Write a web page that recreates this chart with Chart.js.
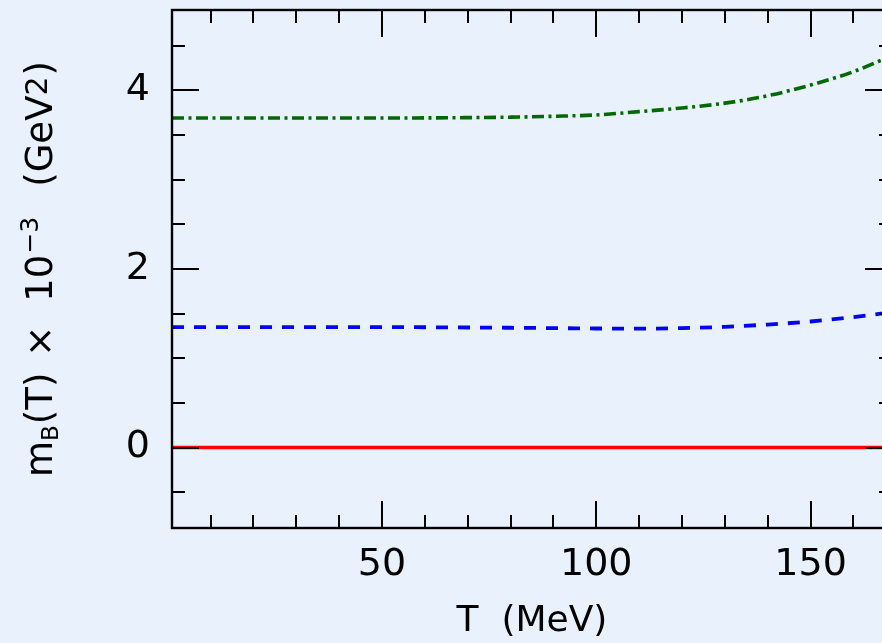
<!DOCTYPE html>
<html>
<head>
<meta charset="utf-8">
<script src="https://cdn.jsdelivr.net/npm/chart.js@4.4.1/dist/chart.umd.min.js"></script>
<style>
  html, body { margin: 0; padding: 0; overflow: hidden; background: rgb(232,241,252); }
  #wrap { width: 882px; height: 643px; overflow: hidden; }
  canvas { display: block; }
</style>
</head>
<body>
<div id="wrap"><canvas id="c" width="940" height="643"></canvas></div>
<script>
// ---- data ----
const temperatures = [1, 10, 20, 30, 40, 50, 60, 70, 80, 90, 100, 110, 120, 130, 140, 150, 160, 169];
const redSeries   = [0, 0, 0, 0, 0, 0, 0, 0, 0, 0, 0, 0, 0, 0, 0, 0, 0, 0];
const blueSeries  = [1.35, 1.35, 1.35, 1.35, 1.35, 1.35, 1.348, 1.345, 1.342, 1.338, 1.334, 1.332, 1.338, 1.352, 1.378, 1.412, 1.462, 1.515];
const greenSeries = [3.69, 3.69, 3.69, 3.69, 3.69, 3.69, 3.692, 3.695, 3.70, 3.71, 3.725, 3.762, 3.803, 3.857, 3.94, 4.06, 4.21, 4.39];
const xTickLabels = [50, 100, 150];
const yTickLabels = [0, 2, 4];
const xMinorTicks = [10, 20, 30, 40, 50, 60, 70, 80, 90, 100, 110, 120, 130, 140, 150, 160];
const yMinorTicks = [-0.5, 0, 0.5, 1, 1.5, 2, 2.5, 3, 3.5, 4, 4.5];
const xTitle = 'T  (MeV)';

const BG = 'rgb(232,241,252)';
const FONT = "'DejaVu Sans', sans-serif";

function pts(ys) { return temperatures.map((t, i) => ({ x: t, y: ys[i] })); }

const framePlugin = {
  id: 'frame',
  beforeDraw(chart) {
    const ctx = chart.ctx;
    ctx.save();
    ctx.fillStyle = BG;
    ctx.fillRect(0, 0, chart.width, chart.height);
    ctx.restore();
  },
  afterDatasetsDraw(chart) {
    const { ctx, chartArea: a, scales } = chart;
    const xs = scales.x, ys = scales.y;
    ctx.save();
    ctx.strokeStyle = '#000';
    ctx.lineWidth = 2;
    ctx.lineCap = 'butt';
    ctx.beginPath();
    xMinorTicks.forEach(v => {
      const px = Math.round(xs.getPixelForValue(v));
      const len = (v % 50 === 0) ? 27 : 13;
      ctx.moveTo(px, a.bottom); ctx.lineTo(px, a.bottom - len);
      ctx.moveTo(px, a.top); ctx.lineTo(px, a.top + len);
    });
    yMinorTicks.forEach(v => {
      const py = Math.round(ys.getPixelForValue(v));
      const len = yTickLabels.includes(v) ? 27 : 13;
      ctx.moveTo(a.left, py); ctx.lineTo(a.left + len, py);
      ctx.moveTo(a.right, py); ctx.lineTo(a.right - len, py);
    });
    ctx.stroke();
    ctx.lineWidth = 2.4;
    ctx.strokeRect(a.left, a.top, a.right - a.left, a.bottom - a.top);
    ctx.restore();
  },
  afterDraw(chart) {
    // y-axis title with sub/superscripts; g = gap (px) placed before the piece
    const { ctx, chartArea: a } = chart;
    const pieces = [
      { t: 'm', s: 37, d: 0, g: 0 },
      { t: 'B', s: 23, d: 6, g: 0 },
      { t: '(T)', s: 37, d: 0, g: 1 },
      { t: '\u00d7', s: 37, d: 0, g: 16 },
      { t: '10', s: 37, d: 0, g: 24 },
      { t: '\u22123', s: 25, d: -14, g: 1 },
      { t: '(GeV', s: 37, d: 0, g: 30 },
      { t: '2', s: 30, d: -5, g: 0 },
      { t: ')', s: 37, d: 0, g: 1 }
    ];
    ctx.save();
    ctx.fillStyle = '#000';
    ctx.textBaseline = 'alphabetic';
    ctx.textAlign = 'left';
    let total = 0;
    pieces.forEach(p => { ctx.font = p.s + 'px ' + FONT; p.w = ctx.measureText(p.t).width; total += p.w + p.g; });
    ctx.translate(52, (a.top + a.bottom) / 2);
    ctx.rotate(-Math.PI / 2);
    let x = -total / 2;
    pieces.forEach(p => { x += p.g; ctx.font = p.s + 'px ' + FONT; ctx.fillText(p.t, x, p.d); x += p.w; });
    ctx.restore();
  }
};

new Chart(document.getElementById('c'), {
  type: 'line',
  data: {
    datasets: [
      { data: pts(redSeries), borderColor: '#ff0000', borderWidth: 3.5, pointRadius: 0, tension: 0 },
      { data: pts(blueSeries), borderColor: '#0000ff', borderWidth: 3.8, borderDash: [12, 10], pointRadius: 0, cubicInterpolationMode: 'monotone' },
      { data: pts(greenSeries), borderColor: '#006a00', borderWidth: 3.6, borderDash: [12, 4.5, 3, 4.5], pointRadius: 0, cubicInterpolationMode: 'monotone' }
    ]
  },
  options: {
    responsive: false,
    animation: false,
    devicePixelRatio: 1,
    layout: { padding: { top: 10, right: 48, left: 0, bottom: 0 } },
    plugins: { legend: { display: false }, tooltip: { enabled: false } },
    scales: {
      x: {
        type: 'linear', min: 1, max: 169,
        grid: { display: false, drawTicks: false },
        border: { display: false },
        afterBuildTicks: s => { s.ticks = xTickLabels.map(v => ({ value: v })); },
        afterFit: s => { s.height = 115; s.paddingLeft = 0; s.paddingRight = 0; },
        ticks: { color: '#000', font: { family: FONT, size: 38 }, padding: 14, maxRotation: 0, autoSkip: false },
        title: { display: true, text: xTitle, color: '#000', font: { family: FONT, size: 36 }, padding: { top: 0, bottom: 0 } }
      },
      y: {
        type: 'linear', min: -0.9, max: 4.9,
        grid: { display: false, drawTicks: false },
        border: { display: false },
        afterBuildTicks: s => { s.ticks = yTickLabels.map(v => ({ value: v })); },
        afterFit: s => { s.width = 172; s.paddingTop = 0; s.paddingBottom = 0; },
        ticks: { color: '#000', font: { family: FONT, size: 38 }, padding: 22 }
      }
    }
  },
  plugins: [framePlugin]
});
</script>
</body>
</html>
